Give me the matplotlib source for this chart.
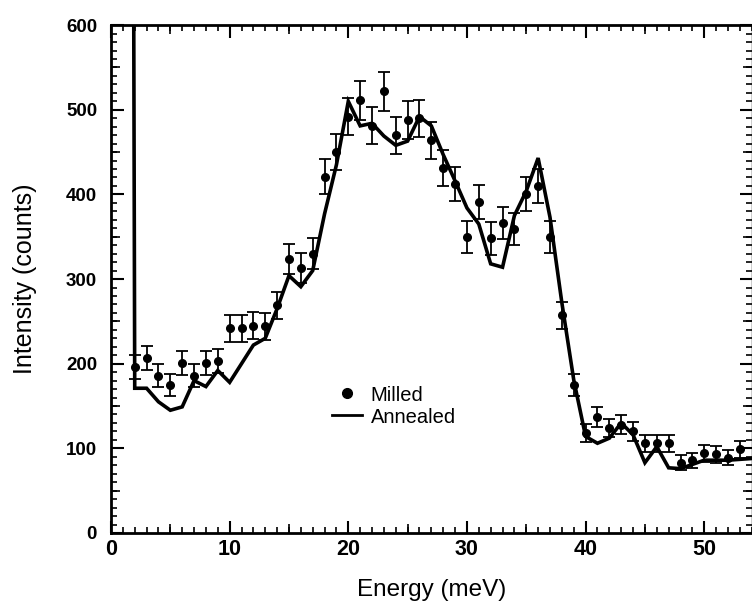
import matplotlib
matplotlib.use("Agg")
import matplotlib.pyplot as plt
from matplotlib.ticker import MultipleLocator, FixedLocator, NullFormatter
from matplotlib.lines import Line2D

plt.rcParams['font.family'] = ['Liberation Sans', 'DejaVu Sans']

milled_energy = list(range(2, 54))
milled_counts = [196, 207, 186, 175, 201, 186, 201, 203,
                 242, 242, 245, 244, 269, 324, 313, 330, 421, 450,
                 492, 511, 481, 522, 470, 488, 490, 464, 431, 412,
                 350, 391, 348, 366, 359, 400, 410, 350, 257, 175,
                 118, 137, 124, 128, 120, 106, 106, 106, 83, 86,
                 94, 93, 89, 99]
milled_err = [14, 14, 14, 13, 14, 14, 14, 14,
              16, 16, 16, 16, 16, 18, 18, 18, 21, 21,
              22, 23, 22, 23, 22, 22, 22, 22, 21, 20,
              19, 20, 19, 19, 19, 20, 20, 19, 16, 13,
              11, 12, 11, 11, 11, 10, 10, 10, 9, 9,
              10, 10, 9, 10]

annealed_energy = [1.9] + list(range(2, 55))
annealed_counts = [700,
                   171, 171, 155, 145, 149, 180, 173, 192,
                   178, 200, 222, 230, 265, 304, 291, 310, 377, 435,
                   510, 481, 484, 469, 458, 463, 492, 481, 447, 416,
                   384, 365, 318, 314, 375, 404, 443, 373, 272, 181,
                   114, 106, 112, 130, 116, 83, 102, 77, 76, 81,
                   86, 86, 86, 87, 88]

fig = plt.figure(figsize=(7.52, 6.06), dpi=100)
ax = fig.add_axes([0.1476, 0.1205, 0.852, 0.838])

ax.plot(annealed_energy, annealed_counts, color='black', lw=2.6,
        solid_joinstyle='miter', zorder=2)
ax.errorbar(milled_energy, milled_counts, yerr=milled_err, fmt='o',
            color='black', ms=5.5, elinewidth=1.3, capsize=4.5,
            capthick=1.3, zorder=3)

ax.set_xlim(0, 54)
ax.set_ylim(0, 600)

ax.xaxis.set_major_locator(MultipleLocator(10))
ax.xaxis.set_minor_locator(MultipleLocator(1))
ax.yaxis.set_major_locator(MultipleLocator(100))
ax.yaxis.set_minor_locator(MultipleLocator(10))
ax.tick_params(which='both', direction='in', top=True, right=True)
ax.tick_params(which='major', length=9, width=1.5)
ax.tick_params(axis='x', which='major', pad=4, labelsize=15.5)
ax.tick_params(axis='y', which='major', pad=10, labelsize=13.5)
ax.tick_params(which='minor', length=4, width=1.2)
for lab in ax.get_xticklabels() + ax.get_yticklabels():
    lab.set_fontweight('bold')

# medium ticks at the half-decades
for loc in ['bottom', 'top']:
    sec = ax.secondary_xaxis(loc)
    sec.xaxis.set_major_locator(FixedLocator([5, 15, 25, 35, 45]))
    sec.xaxis.set_major_formatter(NullFormatter())
    sec.tick_params(direction='in', length=6.5, width=1.2)
    sec.spines[loc].set_visible(False)
for loc in ['left', 'right']:
    sec = ax.secondary_yaxis(loc)
    sec.yaxis.set_major_locator(FixedLocator([50, 150, 250, 350, 450, 550]))
    sec.yaxis.set_major_formatter(NullFormatter())
    sec.tick_params(direction='in', length=6.5, width=1.2)
    sec.spines[loc].set_visible(False)

for s in ['left', 'bottom', 'top']:
    ax.spines[s].set_linewidth(2.0)
ax.spines['right'].set_linewidth(1.0)

ax.set_xlabel('Energy (meV)', fontsize=17.5, labelpad=14)
ax.set_ylabel('Intensity (counts)', fontsize=18, labelpad=21)

h_milled = Line2D([], [], marker='o', ls='none', color='black', ms=7)
h_annealed = Line2D([], [], color='black', lw=2.0)
ax.legend([h_milled, h_annealed], ['Milled', 'Annealed'],
          loc='center left', bbox_to_anchor=(0.316, 0.25), frameon=False,
          fontsize=14.5, handlelength=1.5, handletextpad=0.45,
          labelspacing=0.15)

fig.savefig('out.png', dpi=100)
